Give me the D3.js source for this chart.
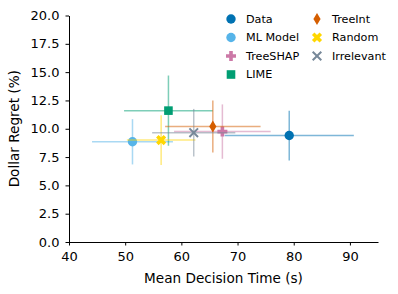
<!DOCTYPE html>
<html>
<head>
<meta charset="utf-8">
<script src="https://cdn.jsdelivr.net/npm/d3@7"></script>
<style>
  body { margin: 0; background: white; }
  text { font-family: "DejaVu Sans", sans-serif; fill: black; }
</style>
</head>
<body>
<svg id="chart" width="398" height="294"></svg>
<script>
// --- data
var names  = ["Data", "ML Model", "TreeSHAP", "LIME", "TreeInt", "Random", "Irrelevant"];
var colors = ["#0072B2", "#56B4E9", "#CC79A7", "#009E73", "#D55E00", "#FFD700", "#778899"];
var shapes = ["circle", "circle", "plus", "square", "diamond", "xfill", "x"];
var timeMean = [79.2, 51.3, 67.3, 57.7, 65.6, 56.4, 62.2];
var timeErr  = [11.5, 7.2, 8.6, 7.9, 8.5, 6.1, 7.4];
var regretMean = [9.4, 8.85, 9.75, 11.6, 10.2, 9.0, 9.65];
var regretErr  = [2.2, 2.0, 2.4, 3.1, 2.3, 2.2, 2.1];
var xTicks = [40, 50, 60, 70, 80, 90];
var yTicks = [0, 2.5, 5, 7.5, 10, 12.5, 15, 17.5, 20];

var svg = d3.select("#chart");
var x = d3.scaleLinear().domain([40, 95]).range([69, 378]);
var y = d3.scaleLinear().domain([0, 20]).range([242, 15.5]);

// axes
svg.append("g")
    .attr("transform", "translate(0," + y(0) + ")")
    .call(d3.axisBottom(x).tickValues(xTicks).tickSize(3.5).tickPadding(6).tickSizeOuter(0))
    .call(g => g.selectAll("text").attr("font-size", "13px"));
svg.append("g")
    .attr("transform", "translate(" + x(40) + ",0)")
    .call(d3.axisLeft(y).tickValues(yTicks).tickFormat(d3.format(".1f")).tickSize(3.5).tickPadding(6).tickSizeOuter(0))
    .call(g => g.selectAll("text").attr("font-size", "13px"));
svg.selectAll(".domain, .tick line").attr("stroke", "black").attr("stroke-width", 1);

svg.append("text").attr("x", (x(40) + x(95)) / 2).attr("y", 282.5)
    .attr("text-anchor", "middle").attr("font-size", "13.6px")
    .text("Mean Decision Time (s)");
svg.append("text")
    .attr("transform", "translate(14," + (y(0) + y(20)) / 2 + ") rotate(-90)")
    .attr("text-anchor", "middle").attr("dy", "0.35em").attr("font-size", "13.6px")
    .text("Dollar Regret (%)");

// marker drawing
function marker(g, shape, color, cx, cy) {
  if (shape == "circle") {
    g.append("circle").attr("cx", cx).attr("cy", cy).attr("r", 4.7).attr("fill", color);
  } else if (shape == "square") {
    g.append("rect").attr("x", cx - 4.3).attr("y", cy - 4.3).attr("width", 8.6).attr("height", 8.6).attr("fill", color);
  } else if (shape == "diamond") {
    g.append("path").attr("d", "M" + cx + "," + (cy - 6) + "L" + (cx + 3.6) + "," + cy + "L" + cx + "," + (cy + 6) + "L" + (cx - 3.6) + "," + cy + "Z")
      .attr("fill", color);
  } else if (shape == "plus") {
    g.append("path").attr("d", "M" + (cx - 5) + "," + cy + "H" + (cx + 5) + "M" + cx + "," + (cy - 5) + "V" + (cy + 5))
      .attr("stroke", color).attr("stroke-width", 3.6);
  } else if (shape == "xfill") {
    g.append("path").attr("d", "M" + (cx - 3.8) + "," + (cy - 3.8) + "L" + (cx + 3.8) + "," + (cy + 3.8) + "M" + (cx - 3.8) + "," + (cy + 3.8) + "L" + (cx + 3.8) + "," + (cy - 3.8))
      .attr("stroke", color).attr("stroke-width", 3.6);
  } else if (shape == "x") {
    g.append("path").attr("d", "M" + (cx - 4.3) + "," + (cy - 4.3) + "L" + (cx + 4.3) + "," + (cy + 4.3) + "M" + (cx - 4.3) + "," + (cy + 4.3) + "L" + (cx + 4.3) + "," + (cy - 4.3))
      .attr("stroke", color).attr("stroke-width", 2);
  }
}

// error bars and points
names.forEach(function (n, i) {
  var g = svg.append("g");
  var cx = x(timeMean[i]), cy = y(regretMean[i]);
  g.append("line")
    .attr("x1", x(timeMean[i] - timeErr[i])).attr("x2", x(timeMean[i] + timeErr[i]))
    .attr("y1", cy).attr("y2", cy)
    .attr("stroke", colors[i]).attr("stroke-width", 1.5).attr("opacity", 0.5);
  g.append("line")
    .attr("x1", cx).attr("x2", cx)
    .attr("y1", y(regretMean[i] - regretErr[i])).attr("y2", y(regretMean[i] + regretErr[i]))
    .attr("stroke", colors[i]).attr("stroke-width", 1.5).attr("opacity", 0.5);
  marker(g, shapes[i], colors[i], cx, cy);
});

// legend, two columns of four
var legend = svg.append("g");
names.forEach(function (n, i) {
  var col = Math.floor(i / 4), row = i % 4;
  var lx = 231 + col * 86, ly = 19 + row * 18.5;
  marker(legend, shapes[i], colors[i], lx, ly);
  legend.append("text").attr("x", lx + 15).attr("y", ly).attr("dy", "0.35em")
    .attr("font-size", "11.2px").text(n);
});
</script>
</body>
</html>
